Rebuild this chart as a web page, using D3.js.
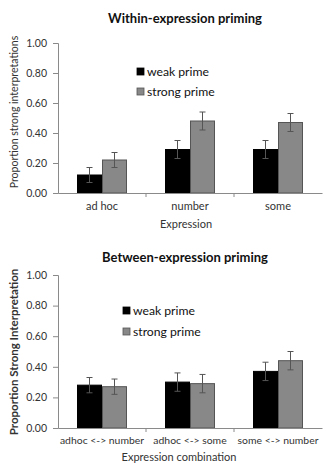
<!DOCTYPE html>
<html><head><meta charset="utf-8">
<script src="https://cdn.jsdelivr.net/npm/d3@7"></script>
<style>body{margin:0;background:#fff}svg{display:block}text{font-family:Lato,"Open Sans",sans-serif}</style>
</head><body>
<svg id="c" width="323" height="463"></svg>
<script>
const series = ["weak prime", "strong prime"];
const cats1 = ["ad hoc", "number", "some"];
const weak1 = [0.12, 0.29, 0.29];
const strong1 = [0.22, 0.48, 0.47];
const weakErr1 = [0.05, 0.06, 0.06];
const strongErr1 = [0.05, 0.06, 0.06];
const cats2 = ["adhoc <-> number", "adhoc <-> some", "some <-> number"];
const weak2 = [0.28, 0.30, 0.37];
const strong2 = [0.27, 0.29, 0.44];
const weakErr2 = [0.05, 0.06, 0.06];
const strongErr2 = [0.05, 0.06, 0.06];
const yTicks = [0, 0.2, 0.4, 0.6, 0.8, 1.0];
const colors = ["#000000", "#888888"];
const strokes = ["#000000", "#555555"];

const svg = d3.select("#c");

function panel(o) {
  const g = svg.append("g");
  const x0 = d3.scaleBand().domain(o.cats).range([58, 322]).padding(0);
  const x1 = d3.scaleBand().domain(series).range([19, 69]).padding(0);
  const y = d3.scaleLinear().domain([0, 1]).range([o.y0, o.y1]);
  g.append("text").attr("x", 185).attr("y", o.titleY).attr("text-anchor", "middle")
    .attr("font-weight", "bold").attr("font-size", 13).attr("fill", "#111").text(o.title);
  const ya = g.append("g").attr("transform", "translate(58,0)")
    .call(d3.axisLeft(y).tickValues(yTicks).tickFormat(d3.format(".2f")).tickSize(5).tickPadding(6));
  ya.select(".domain").attr("stroke", "#8a8a8a");
  ya.selectAll(".tick line").attr("stroke", "#8a8a8a");
  ya.selectAll(".tick text").attr("font-size", 10.5).attr("fill", "#333").style("font-family", "Lato");
  g.append("text").attr("transform", `translate(${o.ylabX},${o.ylabY}) rotate(-90)`)
    .attr("text-anchor", "middle").attr("font-size", o.ylabSize).attr("font-weight", o.ylabWeight)
    .attr("fill", "#333").text(o.ylab);
  const rows = o.cats.map((c, i) => ({c, vals: [
    {s: series[0], v: o.weak[i], e: o.weakErr[i], k: 0},
    {s: series[1], v: o.strong[i], e: o.strongErr[i], k: 1}]}));
  const grp = g.selectAll(".grp").data(rows).join("g")
    .attr("transform", d => `translate(${x0(d.c)},0)`);
  grp.selectAll("rect").data(d => d.vals).join("rect")
    .attr("x", d => x1(d.s) + 0.5).attr("width", x1.bandwidth() - 1)
    .attr("y", d => y(d.v)).attr("height", d => y(0) - y(d.v))
    .attr("fill", d => colors[d.k]).attr("stroke", d => strokes[d.k]).attr("stroke-width", 1);
  const eb = grp.selectAll(".eb").data(d => d.vals).join("g").attr("class", "eb");
  const cx = d => x1(d.s) + x1.bandwidth() / 2;
  eb.append("line").attr("x1", cx).attr("x2", cx)
    .attr("y1", d => y(d.v - d.e)).attr("y2", d => y(d.v + d.e)).attr("stroke", "#555").attr("stroke-width", 1);
  eb.append("line").attr("x1", d => cx(d) - 3).attr("x2", d => cx(d) + 3)
    .attr("y1", d => y(d.v + d.e)).attr("y2", d => y(d.v + d.e)).attr("stroke", "#555").attr("stroke-width", 1);
  eb.append("line").attr("x1", d => cx(d) - 3).attr("x2", d => cx(d) + 3)
    .attr("y1", d => y(d.v - d.e)).attr("y2", d => y(d.v - d.e)).attr("stroke", "#555").attr("stroke-width", 1);
  const xa = g.append("g").attr("transform", `translate(0,${o.y0})`)
    .call(d3.axisBottom(x0).tickSize(0).tickPadding(9));
  xa.select(".domain").attr("stroke", "#8a8a8a");
  xa.selectAll(".tick text").attr("font-size", o.catSize).attr("fill", "#333").style("font-family", "Lato");
  const bounds = o.cats.map(c => x0(c)).concat([x0.range()[1]]);
  g.selectAll(".xt").data(bounds.slice(1, 3)).join("line")
    .attr("x1", d => d).attr("x2", d => d).attr("y1", o.y0).attr("y2", o.y0 + 4).attr("stroke", "#8a8a8a");
  g.append("text").attr("x", o.xlabX).attr("y", o.xlabY).attr("text-anchor", "middle")
    .attr("font-size", 11).attr("fill", "#333").text(o.xlab);
  series.forEach((s, i) => {
    g.append("rect").attr("x", o.legX).attr("y", o.legY + i * o.legDy - 8).attr("width", 7).attr("height", 7)
      .attr("fill", colors[i]).attr("stroke", strokes[i]).attr("stroke-width", 0.8);
    g.append("text").attr("x", o.legX + 10).attr("y", o.legY + i * o.legDy).attr("font-size", 12.2)
      .attr("fill", "#111").text(s);
  });
}

panel({cats: cats1, weak: weak1, strong: strong1, weakErr: weakErr1, strongErr: strongErr1,
  y0: 193, y1: 43, title: "Within-expression priming", titleY: 23, catSize: 11,
  ylab: "Proportion strong interpretations", ylabX: 18, ylabY: 112, ylabSize: 10.5, ylabWeight: "normal",
  xlab: "Expression", xlabX: 186, xlabY: 228, legX: 137, legY: 76, legDy: 20});
panel({cats: cats2, weak: weak2, strong: strong2, weakErr: weakErr2, strongErr: strongErr2,
  y0: 428, y1: 275, title: "Between-expression priming", titleY: 262, catSize: 10.4,
  ylab: "Proportion Strong Interpretation", ylabX: 18, ylabY: 352, ylabSize: 11.5, ylabWeight: "bold",
  xlab: "Expression combination", xlabX: 179, xlabY: 461, legX: 123, legY: 315, legDy: 21});
</script>
</body></html>
